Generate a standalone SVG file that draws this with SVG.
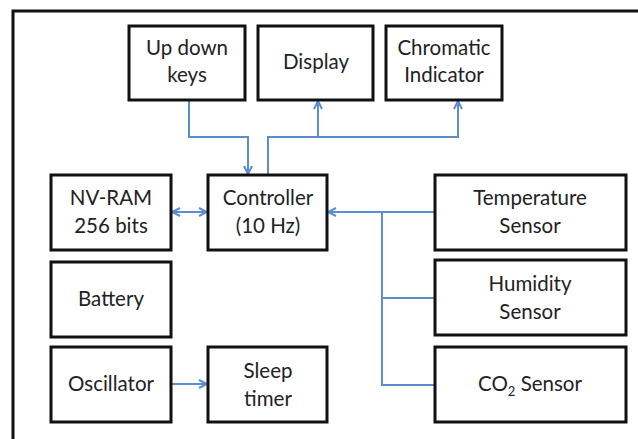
<svg xmlns="http://www.w3.org/2000/svg" width="638" height="439" viewBox="0 0 638 439">
<defs>
<style>
.box{fill:#fff;stroke:#111;stroke-width:3}
.t{font-family:Lato,"Open Sans","Liberation Sans",sans-serif;font-size:20.5px;fill:#222;text-anchor:middle}
.c{fill:none;stroke:#5b8dd0;stroke-width:2}
</style>
<marker id="ah" viewBox="0 0 10 10" refX="9" refY="5" markerWidth="10" markerHeight="10" markerUnits="userSpaceOnUse" orient="auto-start-reverse">
<path d="M1,1 L9,5 L1,9" fill="none" stroke="#5b8dd0" stroke-width="2"/>
</marker>
</defs>
<rect width="638" height="439" fill="#fff"/>
<path d="M13,445 V11 H645" fill="none" stroke="#111" stroke-width="3"/>
<g id="connectors">
<path class="c" d="M189,100 V137 H248 V174" marker-end="url(#ah)"/>
<path class="c" d="M268,175 V137 H458 V101" marker-end="url(#ah)"/>
<path class="c" d="M318,137 V101" marker-end="url(#ah)"/>
<path class="c" d="M172,212 H207" marker-start="url(#ah)" marker-end="url(#ah)"/>
<path class="c" d="M435,212 H328" marker-end="url(#ah)"/>
<path class="c" d="M382,212 V385 H435 M382,298 H435"/>
<path class="c" d="M172,384 H207" marker-end="url(#ah)"/>
</g>
<g id="updown"><rect class="box" x="129" y="26" width="116" height="74"/><text class="t" x="187" y="55">Up down</text><text class="t" x="187" y="82">keys</text></g>
<g id="display"><rect class="box" x="258" y="26" width="115" height="74"/><text class="t" x="316" y="69">Display</text></g>
<g id="chromatic"><rect class="box" x="386" y="26" width="116" height="74"/><text class="t" x="444" y="55">Chromatic</text><text class="t" x="444" y="82">Indicator</text></g>
<g id="nvram"><rect class="box" x="51" y="175" width="120" height="75"/><text class="t" x="111" y="205">NV-RAM</text><text class="t" x="111" y="233">256 bits</text></g>
<g id="controller"><rect class="box" x="208" y="175" width="119" height="75"/><text class="t" x="268" y="205">Controller</text><text class="t" x="268" y="233">(10 Hz)</text></g>
<g id="temp"><rect class="box" x="435" y="175" width="191" height="75"/><text class="t" x="530" y="205">Temperature</text><text class="t" x="530" y="233">Sensor</text></g>
<g id="humidity"><rect class="box" x="435" y="260" width="191" height="75"/><text class="t" x="530" y="291">Humidity</text><text class="t" x="530" y="319">Sensor</text></g>
<g id="battery"><rect class="box" x="51" y="262" width="120" height="75"/><text class="t" x="111" y="306">Battery</text></g>
<g id="oscillator"><rect class="box" x="51" y="347" width="120" height="75"/><text class="t" x="111" y="391">Oscillator</text></g>
<g id="sleep"><rect class="box" x="208" y="347" width="119" height="75"/><text class="t" x="268" y="378">Sleep</text><text class="t" x="268" y="406">timer</text></g>
<g id="co2"><rect class="box" x="435" y="347" width="191" height="75"/><text class="t" x="530" y="391">CO<tspan font-size="13" dy="5">2</tspan><tspan dy="-5"> Sensor</tspan></text></g>
</svg>
